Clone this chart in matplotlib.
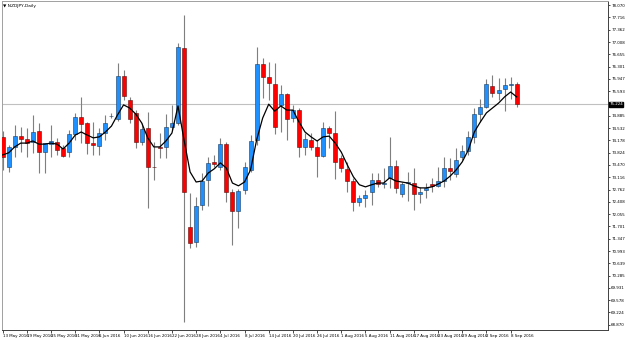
import matplotlib
matplotlib.use("Agg")
import matplotlib.pyplot as plt
import numpy as np

# NZDJPY daily candles
opens = [74.28, 73.41, 73.99, 74.30, 74.22, 74.13, 74.45, 73.84, 74.07, 74.13,
         73.96, 73.84, 74.36, 74.85, 74.68, 74.10, 74.02, 74.39, 74.88, 74.79,
         76.03, 75.34, 74.97, 74.13, 74.53, 73.41, 73.99, 73.99, 74.56, 74.68,
         76.83, 71.69, 71.26, 72.32, 73.04, 73.56, 73.41, 74.07, 72.69, 72.15,
         72.75, 73.33, 74.19, 76.37, 76.00, 75.80, 75.20, 75.51, 74.82, 75.05,
         73.99, 74.19, 73.99, 73.73, 74.53, 74.39, 73.67, 73.36, 73.01, 72.41,
         72.52, 72.69, 73.04, 72.92, 73.10, 73.44, 72.64, 72.95, 72.95, 72.64,
         72.75, 72.92, 72.87, 73.01, 73.38, 73.21, 73.70, 73.87, 74.28, 74.94,
         75.14, 75.74, 75.54, 75.66, 75.77, 75.80]
highs = [74.45, 74.05, 74.62, 74.56, 74.53, 74.91, 74.68, 74.10, 74.62, 74.25,
         74.05, 74.48, 74.97, 75.43, 74.71, 74.71, 74.53, 74.91, 74.97, 76.40,
         76.20, 75.43, 75.05, 74.68, 74.99, 74.13, 74.39, 74.94, 75.20, 76.98,
         77.78, 72.67, 72.55, 73.24, 73.70, 73.76, 74.25, 74.13, 72.78, 72.78,
         73.56, 74.33, 76.86, 76.55, 76.43, 76.40, 75.77, 75.54, 75.20, 75.11,
         74.39, 74.39, 74.19, 74.71, 74.59, 75.02, 73.76, 73.56, 73.10, 72.61,
         72.75, 73.24, 73.24, 73.38, 74.28, 73.61, 72.98, 73.27, 73.38, 72.84,
         72.95, 73.10, 73.41, 73.70, 73.67, 73.96, 74.05, 74.45, 75.11, 75.37,
         75.94, 76.06, 75.97, 75.97, 76.00, 75.86]
lows = [73.33, 73.27, 73.70, 73.84, 73.70, 73.82, 73.24, 73.24, 73.70, 73.76,
        73.70, 73.70, 74.19, 74.10, 73.79, 73.76, 73.76, 74.19, 74.82, 74.74,
        75.34, 74.68, 73.96, 74.05, 72.23, 73.04, 73.67, 73.67, 74.48, 74.62,
        68.96, 71.08, 71.11, 72.18, 72.29, 73.41, 73.33, 72.41, 71.17, 71.66,
        72.64, 73.27, 74.05, 75.40, 75.34, 74.36, 74.42, 74.19, 74.71, 73.70,
        73.76, 73.90, 73.13, 73.70, 73.96, 73.07, 73.27, 72.69, 72.15, 72.29,
        72.26, 72.32, 72.84, 72.81, 72.81, 72.67, 72.55, 72.44, 72.18, 72.38,
        72.52, 72.69, 72.84, 72.84, 73.04, 73.13, 73.61, 73.76, 74.10, 74.71,
        75.11, 75.43, 75.34, 75.02, 75.37, 75.14]
closes = [73.70, 73.99, 74.30, 74.22, 74.10, 74.42, 73.84, 74.10, 74.16, 73.90,
          73.73, 74.36, 74.85, 74.65, 74.10, 74.05, 74.39, 74.68, 74.89, 76.03,
          75.45, 74.79, 74.13, 74.51, 73.41, 73.40, 73.96, 74.56, 74.68, 76.86,
          72.69, 71.23, 72.29, 73.01, 73.53, 73.50, 74.07, 72.69, 72.15, 72.72,
          73.41, 74.16, 76.37, 76.00, 75.83, 74.56, 75.51, 74.79, 75.05, 73.99,
          74.22, 73.99, 73.73, 74.53, 74.39, 73.56, 73.38, 73.01, 72.41, 72.52,
          72.61, 73.04, 72.92, 72.95, 73.44, 72.81, 72.92, 72.97, 72.64, 72.69,
          72.81, 72.87, 73.01, 73.38, 73.30, 73.61, 73.87, 74.28, 74.94, 75.14,
          75.80, 75.54, 75.63, 75.77, 75.80, 75.22]
ma = [73.76, 73.82, 73.99, 74.10, 74.10, 74.16, 74.07, 74.07, 74.10, 74.07,
      73.93, 74.10, 74.33, 74.42, 74.33, 74.25, 74.28, 74.42, 74.59, 74.91,
      75.20, 75.11, 74.94, 74.68, 74.25, 73.99, 73.99, 74.16, 74.39, 75.17,
      74.19, 73.27, 72.98, 73.01, 73.24, 73.36, 73.53, 73.38, 72.95, 72.87,
      72.98, 73.33, 74.19, 74.82, 75.22, 75.02, 75.17, 75.05, 75.05, 74.71,
      74.42, 74.28, 74.16, 74.28, 74.30, 74.10, 73.84, 73.47, 73.13, 72.90,
      72.84, 72.90, 72.95, 72.95, 73.10, 73.01, 72.98, 72.95, 72.87, 72.81,
      72.81, 72.84, 72.92, 73.01, 73.15, 73.33, 73.56, 73.90, 74.42, 74.71,
      74.97, 75.11, 75.25, 75.43, 75.57, 75.43]

date_labels = ['13 May 2016', '19 May 2016', '25 May 2016', '31 May 2016', '6 Jun 2016',
               '10 Jun 2016', '16 Jun 2016', '22 Jun 2016', '28 Jun 2016', '4 Jul 2016',
               '8 Jul 2016', '14 Jul 2016', '20 Jul 2016', '26 Jul 2016', '1 Aug 2016',
               '5 Aug 2016', '11 Aug 2016', '17 Aug 2016', '23 Aug 2016', '29 Aug 2016',
               '2 Sep 2016', '8 Sep 2016']
price_labels = ['78.070', '77.716', '77.362', '77.008', '76.655', '76.301', '75.947',
                '75.593', '75.239', '74.885', '74.532', '74.178', '73.824', '73.470',
                '73.116', '72.762', '72.408', '72.055', '71.701', '71.347', '70.993',
                '70.639', '70.285', '69.931', '69.578', '69.224', '68.870']
bid = 75.224

o = np.array(opens); h = np.array(highs); l = np.array(lows); c = np.array(closes)
x = np.arange(len(c))
up = c >= o

fig = plt.figure(figsize=(6.25, 3.38), dpi=100)
ax = fig.add_axes([2 / 625, 8 / 338, 606 / 625, 329 / 338])

# wicks, then bodies
ax.vlines(x, l, h, color='#7f7f7f', lw=0.8, zorder=2)
body = np.maximum(np.abs(c - o), 0.012)
bottom = np.minimum(o, c)
ax.bar(x[up], body[up], bottom=bottom[up], width=0.66, color='#1e90ff',
       edgecolor='#1a3a5a', linewidth=0.4, zorder=3)
ax.bar(x[~up], body[~up], bottom=bottom[~up], width=0.66, color='#ff0000',
       edgecolor='#5a1010', linewidth=0.4, zorder=3)

ax.plot(x, ma, color='black', lw=0.9, zorder=4)
ax.axhline(bid, color='#c0c0c0', lw=0.8, zorder=1)

ax.set_xlim(-0.1, 100.1)
ax.set_ylim(68.72, 78.19)

ax.set_xticks(x[::4][:len(date_labels)])
ax.set_xticklabels(date_labels, fontsize=2.9, ha='left')
ax.tick_params(axis='x', length=2, width=0.5, pad=1)

# price scale on the right; the bid box replaces the label it covers
ax.yaxis.tick_right()
ticks = [float(v) for v in price_labels]
shown = ['' if abs(t - bid) < 0.1 else s for t, s in zip(ticks, price_labels)]
ax.set_yticks(ticks)
ax.set_yticklabels(shown, fontsize=2.9)
ax.tick_params(axis='y', length=1.5, width=0.5, pad=0.8)

ax.text(1.002, bid, f'{bid:.3f}', transform=ax.get_yaxis_transform(), fontsize=2.9,
        color='white', va='center', ha='left', zorder=10, clip_on=False,
        bbox=dict(boxstyle='square,pad=0.12', fc='black', ec='black'))

for s in ['top', 'left']:
    ax.spines[s].set_color('#a0a0a0')
for s in ['right', 'bottom']:
    ax.spines[s].set_color('#404040')
for s in ax.spines.values():
    s.set_linewidth(0.7)

fig.text(3 / 625, 1 - 6 / 338, '\u25bc NZDJPY,Daily', fontsize=3.2, va='center', ha='left')

fig.savefig('out.png', dpi=100)
